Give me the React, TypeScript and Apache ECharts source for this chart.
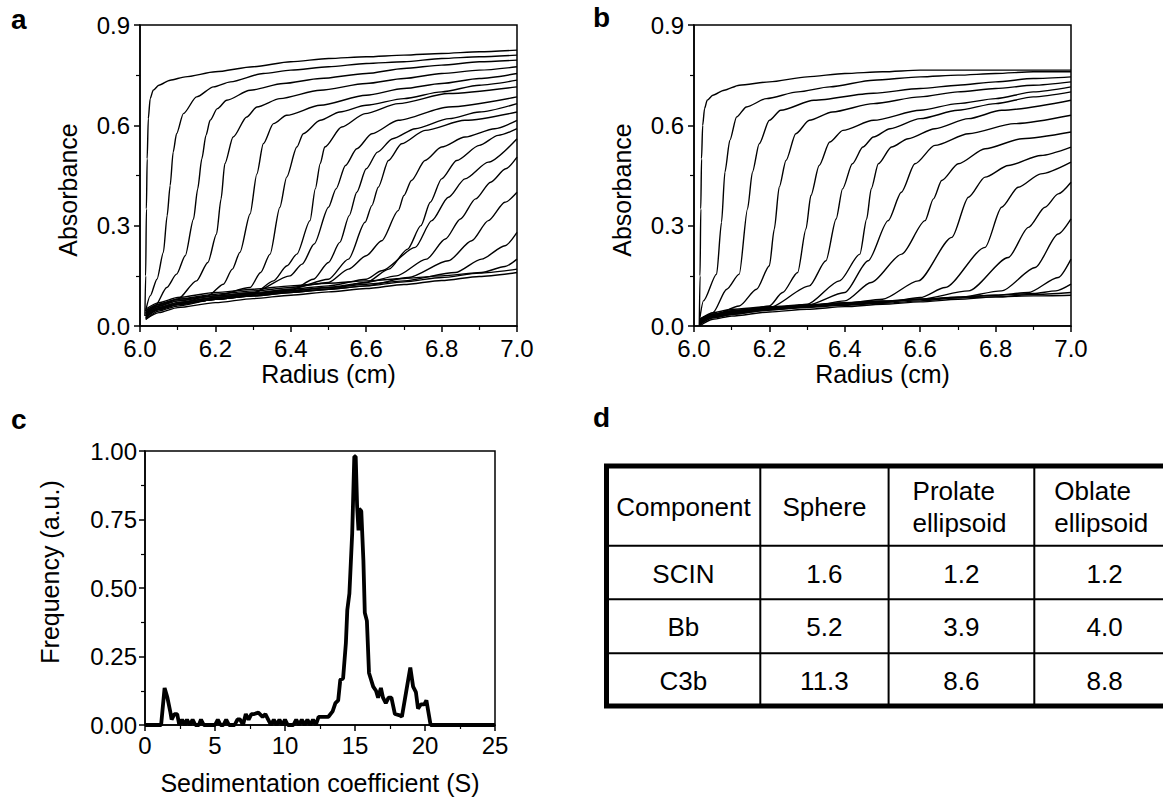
import React, { useEffect, useRef } from 'react';
import * as echarts from 'echarts';

const FONT = '"Liberation Sans", Arial, Helvetica, sans-serif';

// ---------- Panel a : absorbance scans [radius (cm), absorbance] ----------
const scanA01 = [[6.013,0.03],[6.015,0.15],[6.017,0.35],[6.019,0.5],[6.022,0.62],[6.027,0.68],[6.035,0.705],[6.05,0.72],[6.08,0.735],[6.12,0.745],[6.2,0.76],[6.3,0.775],[6.4,0.79],[6.5,0.8],[6.6,0.805],[6.7,0.81],[6.8,0.815],[6.9,0.82],[7.0,0.825]];
const scanA02 = [[6.015,0.045],[6.027,0.09],[6.045,0.14],[6.062,0.22],[6.072,0.33],[6.08,0.42],[6.088,0.52],[6.097,0.575],[6.115,0.635],[6.15,0.685],[6.195,0.715],[6.24,0.73],[6.327,0.755],[6.4,0.765],[6.5,0.775],[6.6,0.785],[6.7,0.79],[6.8,0.8],[6.9,0.805],[7.0,0.81]];
const scanA03 = [[6.015,0.03],[6.04,0.06],[6.071,0.115],[6.097,0.155],[6.12,0.21],[6.142,0.32],[6.153,0.41],[6.164,0.5],[6.175,0.57],[6.186,0.615],[6.205,0.65],[6.23,0.675],[6.292,0.705],[6.38,0.725],[6.478,0.74],[6.6,0.755],[6.7,0.77],[6.8,0.78],[6.9,0.79],[7.0,0.795]];
const scanA04 = [[6.015,0.04],[6.05,0.06],[6.1,0.08],[6.15,0.135],[6.18,0.19],[6.203,0.275],[6.215,0.38],[6.225,0.485],[6.247,0.565],[6.283,0.625],[6.31,0.655],[6.371,0.68],[6.478,0.705],[6.6,0.725],[6.7,0.74],[6.8,0.755],[6.9,0.765],[7.0,0.775]];
const scanA05 = [[6.015,0.025],[6.05,0.05],[6.1,0.065],[6.18,0.09],[6.221,0.125],[6.245,0.17],[6.265,0.22],[6.292,0.335],[6.31,0.455],[6.327,0.545],[6.354,0.605],[6.389,0.63],[6.478,0.66],[6.6,0.69],[6.7,0.71],[6.8,0.725],[6.9,0.74],[7.0,0.755]];
const scanA06 = [[6.015,0.045],[6.05,0.065],[6.1,0.08],[6.2,0.09],[6.292,0.115],[6.32,0.16],[6.345,0.215],[6.371,0.355],[6.389,0.445],[6.416,0.535],[6.433,0.575],[6.478,0.615],[6.53,0.64],[6.6,0.66],[6.7,0.68],[6.8,0.7],[6.9,0.72],[7.0,0.735]];
const scanA07 = [[6.015,0.03],[6.05,0.05],[6.1,0.065],[6.2,0.08],[6.3,0.095],[6.354,0.135],[6.39,0.18],[6.416,0.215],[6.451,0.315],[6.465,0.41],[6.478,0.485],[6.49,0.535],[6.535,0.595],[6.597,0.635],[6.685,0.665],[6.818,0.695],[7.0,0.715]];
const scanA08 = [[6.015,0.04],[6.05,0.06],[6.1,0.075],[6.2,0.09],[6.3,0.1],[6.398,0.15],[6.43,0.185],[6.462,0.245],[6.5,0.355],[6.52,0.41],[6.545,0.48],[6.575,0.53],[6.615,0.575],[6.685,0.615],[6.818,0.655],[7.0,0.685]];
const scanA09 = [[6.015,0.02],[6.05,0.045],[6.1,0.06],[6.2,0.08],[6.3,0.09],[6.4,0.105],[6.46,0.14],[6.5,0.19],[6.53,0.25],[6.555,0.33],[6.575,0.4],[6.6,0.47],[6.63,0.52],[6.67,0.56],[6.73,0.59],[6.82,0.62],[6.9,0.64],[7.0,0.665]];
const scanA10 = [[6.015,0.035],[6.05,0.055],[6.1,0.07],[6.2,0.085],[6.3,0.097],[6.4,0.11],[6.5,0.14],[6.553,0.2],[6.597,0.31],[6.615,0.36],[6.632,0.415],[6.659,0.495],[6.694,0.545],[6.756,0.585],[6.862,0.615],[7.0,0.64]];
const scanA11 = [[6.015,0.045],[6.05,0.065],[6.1,0.08],[6.2,0.095],[6.3,0.105],[6.4,0.115],[6.5,0.13],[6.553,0.17],[6.6,0.21],[6.641,0.255],[6.685,0.345],[6.7,0.39],[6.72,0.435],[6.756,0.495],[6.8,0.535],[6.862,0.565],[6.941,0.59],[7.0,0.615]];
const scanA12 = [[6.015,0.03],[6.05,0.05],[6.1,0.065],[6.2,0.08],[6.3,0.09],[6.4,0.1],[6.5,0.11],[6.6,0.13],[6.66,0.17],[6.71,0.23],[6.745,0.3],[6.77,0.37],[6.8,0.44],[6.84,0.495],[6.9,0.54],[6.95,0.57],[7.0,0.59]];
const scanA13 = [[6.015,0.04],[6.05,0.06],[6.1,0.075],[6.2,0.09],[6.3,0.1],[6.4,0.11],[6.5,0.12],[6.6,0.14],[6.641,0.165],[6.73,0.235],[6.774,0.315],[6.818,0.385],[6.862,0.44],[6.924,0.49],[7.0,0.56]];
const scanA14 = [[6.015,0.035],[6.05,0.055],[6.1,0.07],[6.2,0.085],[6.3,0.095],[6.4,0.105],[6.5,0.115],[6.6,0.13],[6.68,0.15],[6.76,0.2],[6.81,0.26],[6.85,0.32],[6.89,0.38],[6.93,0.43],[6.97,0.47],[7.0,0.505]];
const scanA15 = [[6.015,0.025],[6.05,0.05],[6.1,0.065],[6.2,0.08],[6.3,0.09],[6.4,0.1],[6.5,0.11],[6.6,0.12],[6.712,0.145],[6.818,0.195],[6.88,0.255],[6.924,0.315],[6.968,0.37],[7.0,0.4]];
const scanA16 = [[6.015,0.035],[6.05,0.055],[6.1,0.07],[6.2,0.085],[6.3,0.097],[6.4,0.107],[6.5,0.115],[6.6,0.125],[6.7,0.135],[6.836,0.16],[6.906,0.2],[6.968,0.24],[7.0,0.28]];
const scanA17 = [[6.015,0.05],[6.05,0.07],[6.1,0.085],[6.2,0.1],[6.3,0.11],[6.4,0.12],[6.5,0.128],[6.6,0.135],[6.7,0.142],[6.8,0.15],[6.906,0.16],[6.968,0.178],[7.0,0.2]];
const scanA18 = [[6.015,0.03],[6.05,0.05],[6.1,0.065],[6.2,0.08],[6.3,0.092],[6.4,0.102],[6.5,0.11],[6.6,0.12],[6.7,0.132],[6.8,0.145],[6.9,0.158],[7.0,0.17]];
const scanA19 = [[6.015,0.02],[6.05,0.04],[6.1,0.055],[6.2,0.07],[6.3,0.082],[6.4,0.092],[6.5,0.102],[6.6,0.112],[6.7,0.124],[6.8,0.136],[6.9,0.148],[7.0,0.16]];
const scansA = [scanA01,scanA02,scanA03,scanA04,scanA05,scanA06,scanA07,scanA08,scanA09,scanA10,scanA11,scanA12,scanA13,scanA14,scanA15,scanA16,scanA17,scanA18,scanA19];

// ---------- Panel b : absorbance scans ----------
const scanB01 = [[6.014,0.0],[6.016,0.15],[6.018,0.35],[6.02,0.5],[6.023,0.6],[6.028,0.65],[6.035,0.675],[6.05,0.69],[6.08,0.705],[6.12,0.72],[6.2,0.73],[6.3,0.745],[6.4,0.755],[6.5,0.76],[6.6,0.765],[6.8,0.765],[7.0,0.765]];
const scanB02 = [[6.015,0.02],[6.025,0.075],[6.06,0.155],[6.073,0.31],[6.082,0.46],[6.095,0.555],[6.113,0.625],[6.139,0.655],[6.192,0.68],[6.276,0.7],[6.36,0.715],[6.476,0.735],[6.6,0.745],[6.7,0.75],[6.8,0.755],[6.9,0.76],[7.0,0.76]];
const scanB03 = [[6.015,0.01],[6.05,0.04],[6.087,0.11],[6.12,0.155],[6.142,0.35],[6.155,0.46],[6.173,0.545],[6.2,0.615],[6.23,0.645],[6.318,0.675],[6.476,0.696],[6.6,0.71],[6.7,0.72],[6.8,0.73],[6.9,0.74],[7.0,0.745]];
const scanB04 = [[6.015,0.015],[6.05,0.03],[6.12,0.06],[6.166,0.11],[6.2,0.18],[6.213,0.29],[6.226,0.415],[6.244,0.495],[6.27,0.575],[6.306,0.615],[6.367,0.64],[6.476,0.665],[6.6,0.685],[6.7,0.7],[6.8,0.71],[6.9,0.72],[7.0,0.73]];
const scanB05 = [[6.015,0.005],[6.05,0.025],[6.1,0.035],[6.2,0.06],[6.235,0.1],[6.275,0.16],[6.297,0.29],[6.31,0.39],[6.332,0.48],[6.36,0.55],[6.395,0.585],[6.476,0.615],[6.6,0.645],[6.7,0.665],[6.8,0.68],[6.9,0.7],[7.0,0.715]];
const scanB06 = [[6.015,0.015],[6.05,0.035],[6.1,0.045],[6.2,0.055],[6.306,0.12],[6.35,0.195],[6.377,0.32],[6.394,0.41],[6.42,0.485],[6.448,0.535],[6.476,0.565],[6.52,0.59],[6.6,0.62],[6.7,0.645],[6.8,0.665],[6.9,0.685],[7.0,0.7]];
const scanB07 = [[6.015,0.01],[6.05,0.03],[6.1,0.04],[6.2,0.05],[6.3,0.065],[6.386,0.135],[6.44,0.215],[6.458,0.32],[6.47,0.41],[6.489,0.485],[6.524,0.535],[6.568,0.56],[6.639,0.59],[6.728,0.62],[6.816,0.645],[7.0,0.675]];
const scanB08 = [[6.015,0.015],[6.05,0.035],[6.1,0.045],[6.2,0.055],[6.3,0.062],[6.4,0.1],[6.462,0.195],[6.515,0.315],[6.55,0.4],[6.586,0.485],[6.639,0.54],[6.728,0.575],[6.85,0.605],[7.0,0.63]];
const scanB09 = [[6.015,0.005],[6.05,0.025],[6.1,0.035],[6.2,0.048],[6.3,0.056],[6.4,0.075],[6.47,0.13],[6.551,0.215],[6.613,0.315],[6.635,0.38],[6.657,0.435],[6.701,0.485],[6.772,0.53],[6.87,0.56],[7.0,0.58]];
const scanB10 = [[6.015,0.02],[6.05,0.035],[6.1,0.045],[6.2,0.055],[6.3,0.062],[6.4,0.068],[6.5,0.08],[6.595,0.135],[6.684,0.265],[6.728,0.385],[6.772,0.445],[6.834,0.48],[6.92,0.51],[7.0,0.535]];
const scanB11 = [[6.015,0.01],[6.05,0.03],[6.1,0.04],[6.2,0.05],[6.3,0.058],[6.4,0.064],[6.5,0.07],[6.6,0.085],[6.666,0.115],[6.772,0.235],[6.816,0.355],[6.86,0.415],[6.92,0.455],[7.0,0.49]];
const scanB12 = [[6.015,0.015],[6.05,0.03],[6.1,0.042],[6.2,0.052],[6.3,0.06],[6.4,0.066],[6.5,0.072],[6.6,0.08],[6.728,0.105],[6.834,0.205],[6.887,0.295],[6.931,0.355],[6.966,0.395],[7.0,0.43]];
const scanB13 = [[6.015,0.005],[6.05,0.025],[6.1,0.035],[6.2,0.048],[6.3,0.056],[6.4,0.062],[6.5,0.068],[6.6,0.075],[6.7,0.085],[6.816,0.105],[6.905,0.175],[6.966,0.275],[7.0,0.32]];
const scanB14 = [[6.015,0.02],[6.05,0.035],[6.1,0.045],[6.2,0.055],[6.3,0.062],[6.4,0.068],[6.5,0.074],[6.6,0.08],[6.7,0.086],[6.8,0.092],[6.887,0.1],[6.966,0.145],[7.0,0.2]];
const scanB15 = [[6.015,0.01],[6.05,0.028],[6.1,0.038],[6.2,0.05],[6.3,0.058],[6.4,0.065],[6.5,0.072],[6.6,0.079],[6.7,0.086],[6.8,0.092],[6.9,0.097],[6.96,0.105],[7.0,0.125]];
const scanB16 = [[6.015,0.0],[6.05,0.02],[6.1,0.03],[6.2,0.042],[6.3,0.05],[6.4,0.058],[6.5,0.065],[6.6,0.072],[6.7,0.08],[6.8,0.087],[6.9,0.094],[7.0,0.1]];
const scanB17 = [[6.015,0.02],[6.05,0.04],[6.1,0.05],[6.2,0.058],[6.3,0.064],[6.4,0.07],[6.5,0.075],[6.6,0.08],[6.7,0.084],[6.8,0.087],[6.9,0.09],[7.0,0.092]];
const scansB = [scanB01,scanB02,scanB03,scanB04,scanB05,scanB06,scanB07,scanB08,scanB09,scanB10,scanB11,scanB12,scanB13,scanB14,scanB15,scanB16,scanB17];

// ---------- Panel c : sedimentation coefficient distribution ----------
const sedCoef = [0,1.15,1.4,1.6,1.8,1.9,2.1,2.3,2.45,2.65,2.85,3.0,3.2,3.4,3.6,3.85,4.0,4.2,5.0,5.2,5.4,5.6,5.8,6.0,6.4,6.6,6.8,7.0,7.2,7.4,7.6,7.8,8.1,8.4,8.6,8.8,9.0,9.2,9.4,9.6,9.8,10.0,10.2,10.6,10.8,11.0,11.2,11.4,11.6,11.8,12.0,12.2,12.4,13.1,13.4,13.6,13.8,13.95,14.15,14.35,14.45,14.6,14.8,14.95,15.05,15.15,15.25,15.3,15.45,15.6,15.7,15.85,16.0,16.3,16.5,16.65,16.85,17.0,17.2,17.4,17.6,17.85,18.2,18.35,18.65,18.95,19.15,19.35,19.5,19.7,19.95,20.1,20.4,25];
const sedFreq = [0,0,0.135,0.1,0.05,0.02,0.04,0.04,0.0,0.02,0.0,0.02,0.0,0.02,0.0,0.0,0.02,0.0,0.0,0.02,0.0,0.0,0.02,0.0,0.0,0.02,0.02,0.0,0.04,0.02,0.04,0.04,0.045,0.03,0.04,0.02,0.0,0.02,0.0,0.02,0.0,0.02,0.0,0.0,0.02,0.0,0.02,0.0,0.02,0.0,0.02,0.0,0.03,0.03,0.05,0.08,0.09,0.165,0.17,0.3,0.42,0.48,0.7,0.98,0.98,0.8,0.71,0.79,0.78,0.6,0.41,0.38,0.19,0.14,0.125,0.1,0.135,0.1,0.08,0.1,0.1,0.04,0.035,0.03,0.12,0.21,0.14,0.12,0.06,0.075,0.075,0.09,0.0,0];

// ---------- Panel d : table ----------
const tableHeader = ['Component', 'Sphere', 'Prolate\nellipsoid', 'Oblate\nellipsoid'];
const tableRows = [
  ['SCIN', '1.6', '1.2', '1.2'],
  ['Bb', '5.2', '3.9', '4.0'],
  ['C3b', '11.3', '8.6', '8.8'],
];

// tick label texts
const fmt1 = (v: number) => v.toFixed(1);
const fmt2 = (v: number) => v.toFixed(2);
const fmt0 = (v: number) => String(Math.round(v));

function axisBase(fontSize: number, margin: number, formatter: (v: number) => string) {
  return {
    type: 'value',
    axisLine: { show: true, onZero: false, lineStyle: { color: '#000', width: 1.5 } },
    axisTick: { show: true, inside: false, length: 6, lineStyle: { color: '#000', width: 1.5 } },
    minorTick: { show: true, splitNumber: 2, length: 4, lineStyle: { color: '#000', width: 1.2 } },
    splitLine: { show: false },
    minorSplitLine: { show: false },
    axisLabel: { color: '#000', fontFamily: FONT, fontSize, margin, formatter },
  };
}

function lineSeries(data: number[][], idx: number, width: number, smooth: boolean) {
  return {
    type: 'line',
    xAxisIndex: idx,
    yAxisIndex: idx,
    data,
    symbol: 'none',
    showSymbol: false,
    silent: true,
    smooth: smooth ? 0.25 : false,
    smoothMonotone: smooth ? 'x' : undefined,
    lineStyle: { color: '#000', width },
    animation: false,
  };
}

export default function App() {
  const ref = useRef<HTMLDivElement>(null);

  useEffect(() => {
    if (!ref.current) return;
    const chart = echarts.init(ref.current, null, { renderer: 'svg' });

    const gridStyle = { show: true, borderColor: '#000', borderWidth: 1.5, backgroundColor: 'transparent' };

    // table geometry
    const tLeft = 606.5, tTop = 466, tBottom = 706, tRight = 1175;
    const colX = [tLeft, 760.3, 888.6, 1034.3, tRight];
    const rowY = [tTop, 545.7, 599.3, 653.3, tBottom];
    const tFont = 26;

    const graphics: any[] = [];
    // panel letters
    const letters = [
      { t: 'a', x: 11, y: 19 },
      { t: 'b', x: 593, y: 17 },
      { t: 'c', x: 11, y: 419 },
      { t: 'd', x: 593, y: 417 },
    ];
    letters.forEach((l) => graphics.push({
      type: 'text', x: l.x, y: l.y, silent: true,
      style: { text: l.t, fontFamily: FONT, fontSize: 28, fontWeight: 'bold', fill: '#000', textVerticalAlign: 'middle' },
    }));
    // axis titles
    const titles = [
      { t: 'Absorbance', x: 68, y: 190, r: true },
      { t: 'Radius (cm)', x: 328.5, y: 374, r: false },
      { t: 'Absorbance', x: 622, y: 190, r: true },
      { t: 'Radius (cm)', x: 882.5, y: 374, r: false },
      { t: 'Frequency (a.u.)', x: 50, y: 572, r: true },
      { t: 'Sedimentation coefficient (S)', x: 320, y: 783, r: false },
    ];
    titles.forEach((t) => graphics.push({
      type: 'text', x: t.x, y: t.y, rotation: t.r ? Math.PI / 2 : 0, silent: true,
      style: { text: t.t, fontFamily: FONT, fontSize: 25, fill: '#000', textAlign: 'center', textVerticalAlign: 'middle' },
    }));

    // table lines
    for (let i = 1; i < rowY.length - 1; i++) {
      graphics.push({ type: 'line', silent: true, shape: { x1: tLeft, y1: rowY[i], x2: tRight, y2: rowY[i] }, style: { stroke: '#000', lineWidth: 2 } });
    }
    for (let i = 1; i < colX.length - 1; i++) {
      graphics.push({ type: 'line', silent: true, shape: { x1: colX[i], y1: tTop, x2: colX[i], y2: tBottom }, style: { stroke: '#000', lineWidth: 2 } });
    }
    graphics.push({ type: 'rect', silent: true, shape: { x: tLeft, y: tTop, width: tRight - tLeft, height: tBottom - tTop }, style: { fill: 'none', stroke: '#000', lineWidth: 5 } });

    // header
    tableHeader.forEach((h, c) => {
      const cy = (rowY[0] + rowY[1]) / 2;
      const twoLine = h.indexOf('\n') >= 0;
      graphics.push({
        type: 'text', silent: true,
        x: twoLine ? colX[c] + (c === 2 ? 24 : 20) : (colX[c] + colX[c + 1]) / 2,
        y: cy + 1,
        style: { text: h, fontFamily: FONT, fontSize: tFont, fill: '#000', lineHeight: 32, textAlign: twoLine ? 'left' : 'center', textVerticalAlign: 'middle' },
      });
    });
    tableRows.forEach((row, r) => {
      row.forEach((cell, c) => {
        graphics.push({
          type: 'text', silent: true,
          x: (colX[c] + colX[c + 1]) / 2,
          y: (rowY[r + 1] + rowY[r + 2]) / 2 + 1,
          style: { text: cell, fontFamily: FONT, fontSize: tFont, fill: '#000', textAlign: 'center', textVerticalAlign: 'middle' },
        });
      });
    });

    const series: any[] = [];
    scansA.forEach((s) => series.push(lineSeries(s, 0, 1.4, true)));
    scansB.forEach((s) => series.push(lineSeries(s, 1, 1.4, true)));
    series.push(lineSeries(sedCoef.map((x, i) => [x, sedFreq[i]]), 2, 3.8, false));

    chart.setOption({
      animation: false,
      backgroundColor: '#fff',
      grid: [
        { left: 140, top: 25, width: 377, height: 301, ...gridStyle },
        { left: 694, top: 25, width: 377, height: 301, ...gridStyle },
        { left: 145, top: 451, width: 350, height: 274, ...gridStyle },
      ],
      xAxis: [
        { ...axisBase(24, 10, fmt1), gridIndex: 0, min: 6, max: 7, interval: 0.2 },
        { ...axisBase(24, 10, fmt1), gridIndex: 1, min: 6, max: 7, interval: 0.2 },
        { ...axisBase(24, 8, fmt0), gridIndex: 2, min: 0, max: 25, interval: 5 },
      ],
      yAxis: [
        { ...axisBase(24, 10, fmt1), gridIndex: 0, min: 0, max: 0.9, interval: 0.3 },
        { ...axisBase(24, 10, fmt1), gridIndex: 1, min: 0, max: 0.9, interval: 0.3 },
        { ...axisBase(24, 8, fmt2), gridIndex: 2, min: 0, max: 1, interval: 0.25 },
      ],
      series,
      graphic: graphics,
    });

    return () => chart.dispose();
  }, []);

  return (
    <div
      ref={ref}
      style={{ position: 'fixed', left: 0, top: 0, width: 1163, height: 798, background: '#fff' }}
    />
  );
}
